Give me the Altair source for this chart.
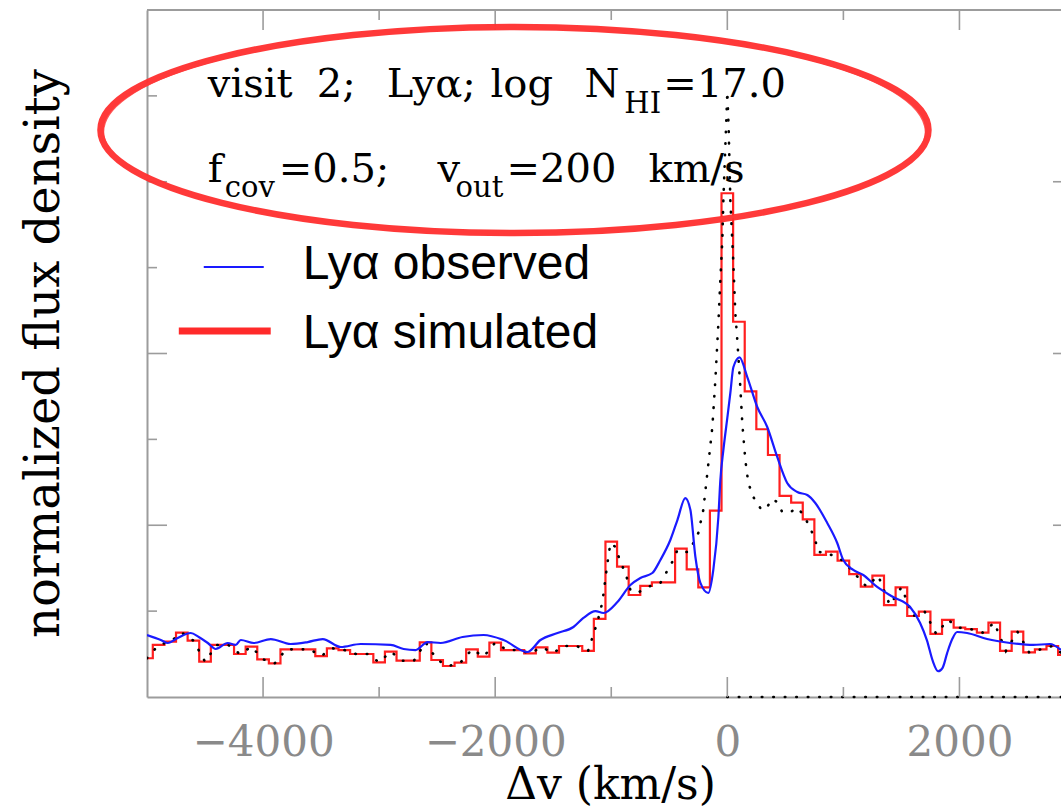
import altair as alt
import pandas as pd

# ---------------- data ----------------
# observed Ly-alpha (blue)
obs_v = [-5000, -4881, -4821, -4735, -4623, -4554, -4476, -4408, -4304, -4235,
         -4192, -4080, -3934, -3762, -3615, -3486, -3331, -3159, -2901, -2789,
         -2686, -2582, -2470, -2281, -2100, -1928, -1722, -1610, -1463, -1326,
         -1240, -1136, -1067, -947, -835, -749, -646, -577, -491, -430,
         -362, -318, -275, -232, -164, -121, -77, -60, -34, 0,
         26, 52, 105, 172, 258, 344, 430, 516, 603, 689,
         758, 861, 947, 999, 1085, 1171, 1291, 1429, 1575, 1661,
         1720, 1770, 1816, 1855, 1894, 1940, 1980, 2066, 2238, 2436,
         2634, 2780, 2875]
obs_f = [0.722, 0.664, 0.629, 0.687, 0.745, 0.699, 0.629, 0.559, 0.629, 0.606,
         0.664, 0.629, 0.675, 0.617, 0.640, 0.675, 0.582, 0.617, 0.606, 0.559,
         0.547, 0.640, 0.629, 0.699, 0.722, 0.664, 0.524, 0.664, 0.745, 0.815,
         0.920, 1.001, 0.978, 1.106, 1.304, 1.386, 1.444, 1.595, 1.828, 2.061,
         2.317, 2.178, 1.630, 1.328, 1.211, 1.479, 2.096, 2.527, 2.876, 3.250,
         3.540, 3.840, 3.955, 3.726, 3.377, 3.144, 2.795, 2.492, 2.387, 2.352,
         2.259, 2.026, 1.793, 1.595, 1.479, 1.421, 1.281, 1.164, 1.048, 0.862,
         0.660, 0.420, 0.300, 0.340, 0.512, 0.680, 0.757, 0.745, 0.675, 0.629,
         0.606, 0.617, 0.547]

# simulated Ly-alpha (red), 100 km/s bins, bin centres
sim_v = list(range(-5000, 3000, 100))
sim_f = [0.451, 0.606, 0.644, 0.749, 0.656, 0.411, 0.606, 0.606, 0.501, 0.586,
         0.439, 0.392, 0.555, 0.555, 0.555, 0.477, 0.567, 0.547, 0.501, 0.501,
         0.404, 0.528, 0.423, 0.423, 0.637, 0.431, 0.361, 0.400, 0.555, 0.470,
         0.633, 0.547, 0.547, 0.508, 0.578, 0.516, 0.594, 0.594, 0.536, 0.910,
         1.809, 1.518, 1.188, 1.293, 1.335, 1.335, 1.727, 1.487, 1.277, 2.170,
         5.866, 4.370, 3.560, 3.118, 2.818, 2.341, 2.263, 2.069, 1.654, 1.692,
         1.587, 1.432, 1.285, 1.413, 1.071, 1.277, 0.943, 0.994, 0.734, 0.897,
         0.807, 0.790, 0.749, 0.866, 0.536, 0.761, 0.520, 0.555, 0.594, 0.489]

# unbinned model (black dotted)
mod_v = [-5000, -4900, -4800, -4700, -4600, -4500, -4400, -4300, -4200, -4100,
         -4000, -3900, -3800, -3700, -3600, -3500, -3400, -3300, -3200, -3100,
         -3000, -2900, -2800, -2700, -2600, -2500, -2400, -2300, -2200, -2100,
         -2000, -1900, -1800, -1700, -1600, -1500, -1400, -1300, -1200,
         -1119, -1076, -1033, -1007, -964, -921, -878, -835, -775, -689,
         -577, -465, -430, -379, -336, -293, -250, -207, -172, -129,
         -103, -77, -60, -43, -34, -12, 0, 12, 26, 52,
         69, 86, 112, 129, 155, 181, 224, 284, 327, 387,
         430, 473, 542, 611, 671, 714, 758, 783, 861, 1000,
         1100, 1200, 1300, 1400, 1500, 1600, 1700, 1800, 1900, 2000,
         2100, 2200, 2300, 2400, 2500, 2600, 2700, 2800, 2900]
mod_f = [0.451, 0.606, 0.644, 0.749, 0.656, 0.411, 0.606, 0.606, 0.501, 0.586,
         0.439, 0.392, 0.555, 0.555, 0.555, 0.477, 0.567, 0.547, 0.501, 0.501,
         0.404, 0.528, 0.423, 0.423, 0.637, 0.431, 0.361, 0.400, 0.555, 0.470,
         0.633, 0.547, 0.547, 0.508, 0.578, 0.516, 0.594, 0.594, 0.536,
         0.873, 1.106, 1.560, 1.793, 1.747, 1.572, 1.444, 1.246, 1.211, 1.281,
         1.328, 1.595, 1.712, 1.689, 1.689, 1.793, 1.910, 2.178, 2.608, 3.144,
         3.691, 4.355, 4.856, 5.322, 5.787, 6.600, 7.050, 6.600, 5.787, 5.054,
         4.472, 4.157, 3.610, 3.191, 2.760, 2.492, 2.329, 2.201, 2.178, 2.306,
         2.271, 2.154, 2.154, 2.201, 2.084, 1.968, 1.828, 1.689, 1.677, 1.587,
         1.432, 1.285, 1.413, 1.071, 1.277, 0.943, 0.994, 0.734, 0.897, 0.807,
         0.790, 0.749, 0.866, 0.536, 0.761, 0.520, 0.555, 0.594, 0.489]

# zero-level dotted line on the red side
zero_v = [0, 2875]
zero_f = [0, 0]

# axis ticks
x_major = [-4000, -2000, 0, 2000]
x_minor = [-3000, -1000, 1000]
y_major = [2, 4, 6]
y_minor = [1, 3, 5, 7]

# annotation text (positions in data units)
ann_main_txt = ["visit", "2;", "Lyα;", "log", "N", "=17.0",
                "f", "=0.5;", "v", "=200", "km/s"]
ann_main_v = [-4476, -3538, -2935, -2040, -1231, -551,
              -4476, -3865, -2496, -1902, -680]
ann_main_f = [6.987, 6.987, 6.987, 6.987, 6.987, 6.987,
              5.997, 5.997, 5.997, 5.997, 5.997]
ann_sub_txt = ["HI", "cov", "out"]
ann_sub_v = [-887, -4330, -2341]
ann_sub_f = [6.801, 5.822, 5.822]

# manual legend
leg_txt = ["Lyα observed", "Lyα simulated"]
leg_v = [-3658, -3658]
leg_f = [4.868, 4.064]
leg_line_v = [-4511, -4726]
leg_line_v2 = [-3994, -3934]
leg_line_f = [5.007, 4.262]
leg_color = ["#1a1aff", "#ff2a2a"]
leg_width = [2, 7]

# hand-drawn ellipse (centre, data units)
ell_v = [-1834]
ell_f = [6.603]

# ---------------- chart ----------------
W, H = 914, 687
GRAY = "#9c9c9c"
xs = alt.Scale(domain=[-5000, 2875], nice=False, zero=False)
ys = alt.Scale(domain=[0, 8], nice=False, zero=False)

xaxis = alt.Axis(values=x_major, format="d", ticks=False, tickSize=0, grid=False,
                 domain=True, domainColor=GRAY, domainWidth=2,
                 labelFont="DejaVu Serif", labelFontSize=42, labelColor="#8a8a8a",
                 labelPadding=58, labelBaseline="alphabetic", labelFlush=False,
                 labelOverlap=False,
                 title="Δv (km/s)", titleFont="DejaVu Serif", titleFontSize=44,
                 titleFontWeight="normal", titleColor="black", titleX=463, titleY=101,
                 titleBaseline="alphabetic", titleAlign="center")
yaxis = alt.Axis(labels=False, ticks=False, tickSize=0, grid=False,
                 domain=True, domainColor=GRAY, domainWidth=2,
                 title="normalized flux density", titleFont="DejaVu Serif",
                 titleFontSize=48, titleFontWeight="normal", titleColor="black",
                 titleX=-89, titleY=343, titleAngle=270,
                 titleBaseline="alphabetic", titleAlign="center")

df_obs = pd.DataFrame({"v": obs_v, "f": obs_f})
df_sim = pd.DataFrame({"v": sim_v, "f": sim_f})
df_mod = pd.DataFrame({"v": mod_v, "f": mod_f})
df_zero = pd.DataFrame({"v": zero_v, "f": zero_f})

X = lambda: alt.X("v:Q", scale=xs)
Y = lambda: alt.Y("f:Q", scale=ys)

red_line = alt.Chart(df_sim).mark_line(
    interpolate="step", color="#ff1f1f", strokeWidth=2.2, clip=True
).encode(x=alt.X("v:Q", scale=xs, axis=xaxis), y=alt.Y("f:Q", scale=ys, axis=yaxis))

dotted = alt.Chart(df_mod).mark_line(
    color="black", strokeWidth=2.6, strokeDash=[0.5, 11], strokeCap="round", clip=True
).encode(x=X(), y=Y())

zero_dotted = alt.Chart(df_zero).mark_line(
    color="black", strokeWidth=2.6, strokeDash=[0.5, 11], strokeCap="round"
).encode(x=X(), y=Y())

blue_line = alt.Chart(df_obs).mark_line(
    color="#1a1aff", strokeWidth=2.2, clip=True, interpolate="monotone"
).encode(x=X(), y=Y())

# frame & ticks
df_xmaj = pd.DataFrame({"v": x_major})
df_xmin = pd.DataFrame({"v": x_minor})
df_ymaj = pd.DataFrame({"f": y_major})
df_ymin = pd.DataFrame({"f": y_minor})

tick_style = dict(color=GRAY, strokeWidth=1.6)
frame_top = alt.Chart(pd.DataFrame({"v": [-5000]})).mark_rule(color=GRAY, strokeWidth=2).encode(
    x=alt.value(0), x2=alt.value(W), y=alt.value(0))
bmaj = alt.Chart(df_xmaj).mark_rule(**tick_style).encode(x=X(), y=alt.value(H), y2=alt.value(H - 20))
bmin = alt.Chart(df_xmin).mark_rule(**tick_style).encode(x=X(), y=alt.value(H), y2=alt.value(H - 10))
tmaj = alt.Chart(df_xmaj).mark_rule(**tick_style).encode(x=X(), y=alt.value(0), y2=alt.value(20))
tmin = alt.Chart(df_xmin).mark_rule(**tick_style).encode(x=X(), y=alt.value(0), y2=alt.value(10))
lmaj = alt.Chart(df_ymaj).mark_rule(**tick_style).encode(y=Y(), x=alt.value(0), x2=alt.value(20))
lmin = alt.Chart(df_ymin).mark_rule(**tick_style).encode(y=Y(), x=alt.value(0), x2=alt.value(10))
rmaj = alt.Chart(df_ymaj).mark_rule(**tick_style).encode(y=Y(), x=alt.value(W - 8), x2=alt.value(W))

# annotation text
df_ann = pd.DataFrame({"v": ann_main_v, "f": ann_main_f, "t": ann_main_txt})
df_sub = pd.DataFrame({"v": ann_sub_v, "f": ann_sub_f, "t": ann_sub_txt})
ann_main = alt.Chart(df_ann).mark_text(
    font="DejaVu Serif", fontSize=40, align="left", baseline="alphabetic", color="black"
).encode(x=X(), y=Y(), text="t:N")
ann_sub = alt.Chart(df_sub).mark_text(
    font="DejaVu Serif", fontSize=29, align="left", baseline="alphabetic", color="black"
).encode(x=X(), y=Y(), text="t:N")

# legend
df_leg = pd.DataFrame({"v": leg_v, "f": leg_f, "t": leg_txt})
leg_text = alt.Chart(df_leg).mark_text(
    font="Liberation Sans", fontSize=48, align="left", baseline="alphabetic", color="black"
).encode(x=X(), y=Y(), text="t:N")
leg_lines = []
for i in range(2):
    d = pd.DataFrame({"v": [leg_line_v[i]], "v2": [leg_line_v2[i]], "f": [leg_line_f[i]]})
    leg_lines.append(
        alt.Chart(d).mark_rule(color=leg_color[i], strokeWidth=leg_width[i]).encode(
            x=X(), x2="v2:Q", y=Y())
    )

# hand-drawn red ellipse (custom symbol path, unit box -1..1)
ELLIPSE = "M -1 0 A 1 0.249 0 1 0 1 0 A 1 0.249 0 1 0 -1 0 Z"
ELLIPSE2 = "M -1 0.02 A 1 0.243 0 1 0 1 -0.01 A 1 0.255 0 1 0 -1 0.02 Z"
df_ell = pd.DataFrame({"v": ell_v, "f": ell_f})
ell1 = alt.Chart(df_ell).mark_point(
    shape=ELLIPSE, size=828 * 828, filled=False, stroke="#ff2e2e",
    strokeWidth=6.5, opacity=1, strokeOpacity=0.95
).encode(x=X(), y=Y())
ell2 = alt.Chart(df_ell).mark_point(
    shape=ELLIPSE2, size=822 * 822, filled=False, stroke="#ff3a3a",
    strokeWidth=3, opacity=1, strokeOpacity=0.85
).encode(x=X(), y=Y())

chart = alt.layer(
    red_line, dotted, zero_dotted, blue_line,
    frame_top, bmaj, bmin, tmaj, tmin, lmaj, lmin, rmaj,
    ann_main, ann_sub, leg_text, *leg_lines, ell1, ell2
).properties(
    width=W, height=H,
    padding={"left": 147, "top": 10, "right": 0, "bottom": 112},
    autosize=alt.AutoSizeParams(type="none"),
    background="white",
).configure_view(stroke=None)

chart.save("out.html", embed_options={"renderer": "svg", "actions": False})
